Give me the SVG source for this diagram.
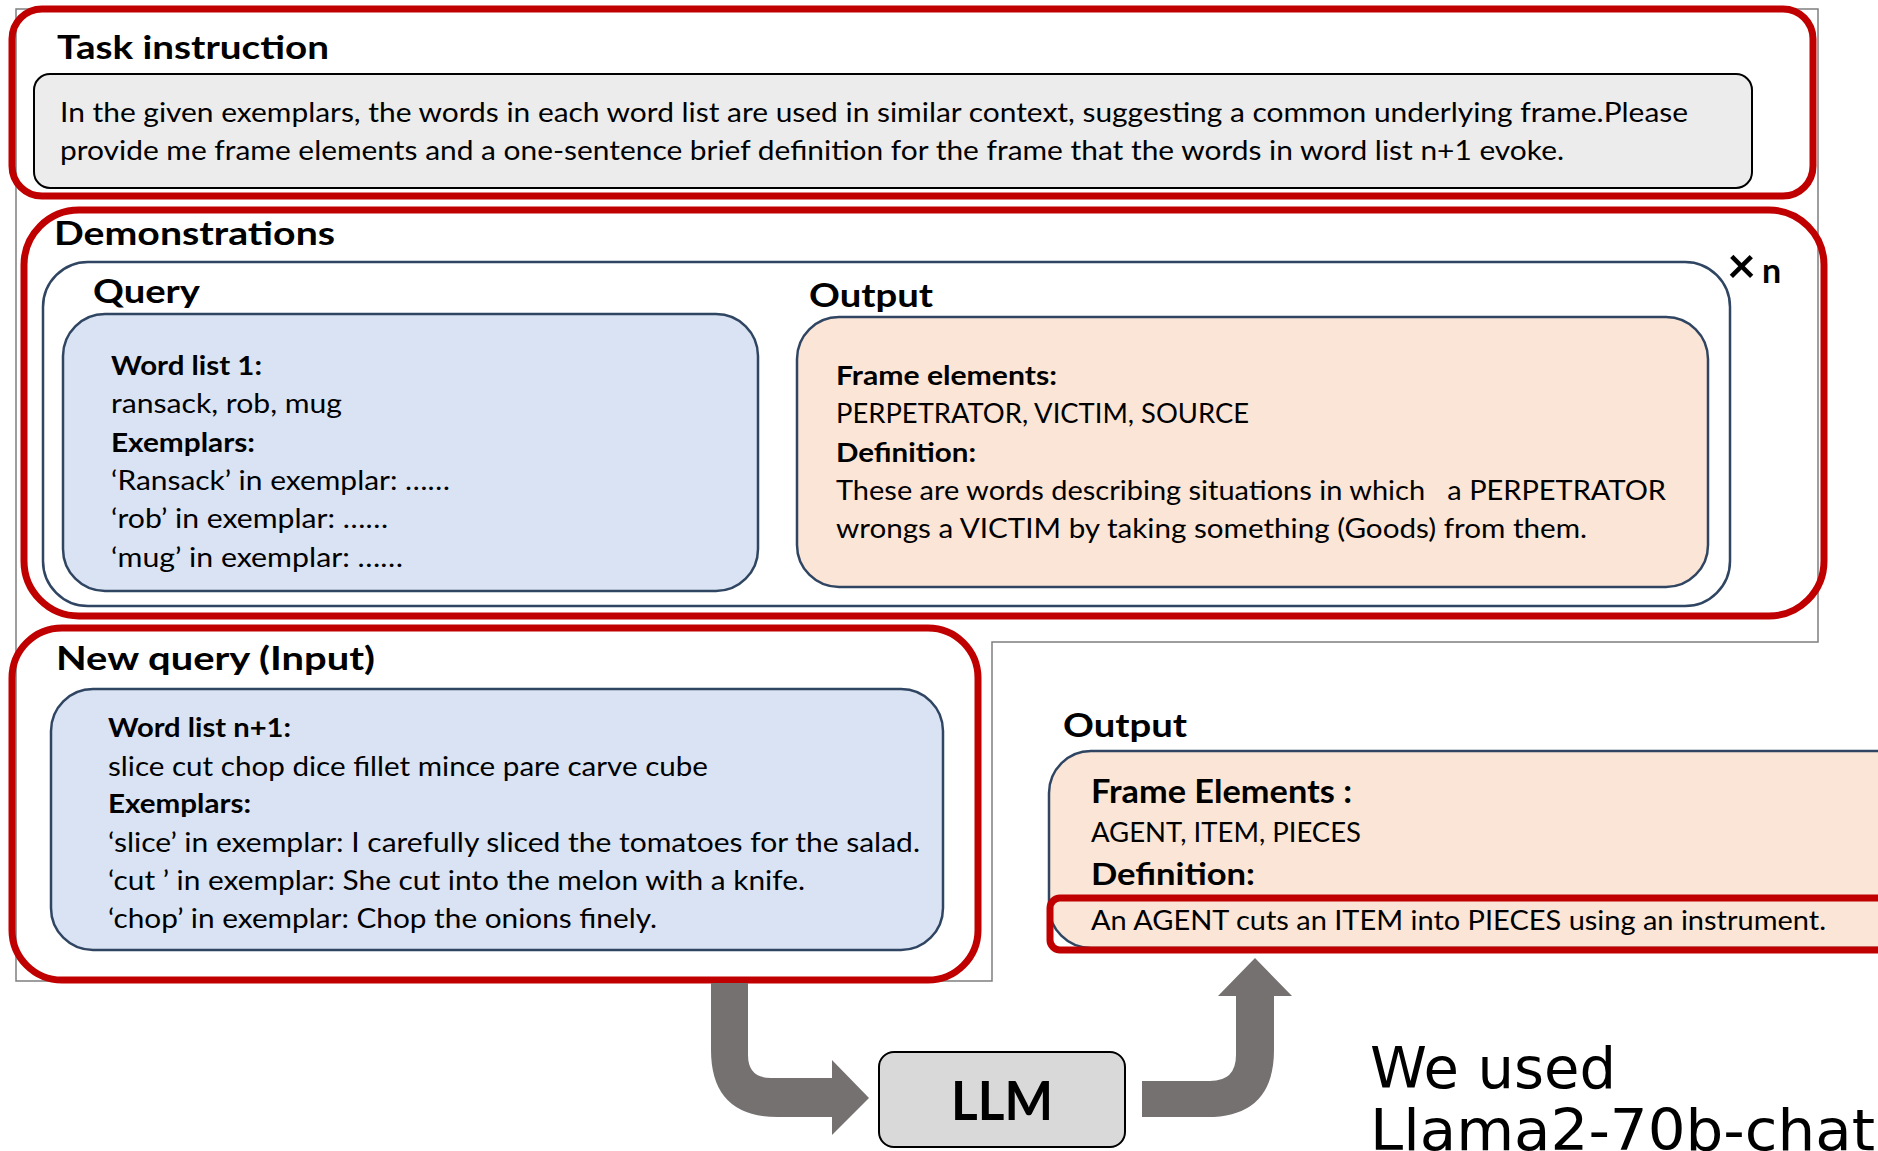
<svg xmlns="http://www.w3.org/2000/svg" width="1878" height="1151" viewBox="0 0 1878 1151">
<defs>
<style>
.t{font-family:Lato,"Open Sans","Liberation Sans",sans-serif;fill:#000}
.h{font-size:32px;font-weight:700}
.b{font-size:26px}
.bb{font-size:26px;font-weight:700}
.red{fill:none;stroke:#c00000;stroke-width:7}
.blue{stroke:#2f4562;stroke-width:2.5}
.arrow{fill:#767171}
.note{font-family:"DejaVu Sans",sans-serif;font-size:57px;fill:#000}
</style>
</defs>
<rect width="1878" height="1151" fill="#fff"/>
<polygon points="16,9 1818,9 1818,642 992,642 992,981 16,981" fill="none" stroke="#7f7f7f" stroke-width="1.5"/>

<g id="task">
<text class="t h" x="57" y="59" textLength="272" lengthAdjust="spacingAndGlyphs">Task instruction</text>
<rect x="34" y="74" width="1718" height="114" rx="16" fill="#ececec" stroke="#000" stroke-width="2"/>
<text class="t b" x="60" y="122" textLength="1628" lengthAdjust="spacingAndGlyphs">In the given exemplars, the words in each word list are used in similar context, suggesting a common underlying frame.Please</text>
<text class="t b" x="60" y="160" textLength="1504" lengthAdjust="spacingAndGlyphs">provide me frame elements and a one-sentence brief definition for the frame that the words in word list n+1 evoke.</text>
<rect class="red" x="12" y="9" width="1801" height="187" rx="30"/>
</g>

<g id="demonstrations">
<text class="t h" x="54" y="245" textLength="281" lengthAdjust="spacingAndGlyphs">Demonstrations</text>
<rect x="43" y="262" width="1687" height="344" rx="45" fill="#fff" class="blue"/>
<text class="t" x="1727" y="283" font-weight="700" font-size="50">×<tspan font-size="34" dx="6">n</tspan></text>
<g id="query">
<text class="t h" x="93" y="303" textLength="107" lengthAdjust="spacingAndGlyphs">Query</text>
<rect x="63" y="314" width="695" height="277" rx="42" fill="#dae3f3" class="blue"/>
<text class="t bb" x="111" y="375" textLength="151" lengthAdjust="spacingAndGlyphs">Word list 1:</text>
<text class="t b" x="111" y="413" textLength="231" lengthAdjust="spacingAndGlyphs">ransack, rob, mug</text>
<text class="t bb" x="111" y="452" textLength="144" lengthAdjust="spacingAndGlyphs">Exemplars:</text>
<text class="t b" x="111" y="490" textLength="339" lengthAdjust="spacingAndGlyphs">‘Ransack’ in exemplar: ……</text>
<text class="t b" x="111" y="528" textLength="277" lengthAdjust="spacingAndGlyphs">‘rob’ in exemplar: ……</text>
<text class="t b" x="111" y="567" textLength="292" lengthAdjust="spacingAndGlyphs">‘mug’ in exemplar: ……</text>
</g>
<g id="demo-output">
<text class="t h" x="809" y="307" textLength="124" lengthAdjust="spacingAndGlyphs">Output</text>
<rect x="797" y="317" width="911" height="270" rx="42" fill="#fbe5d6" class="blue"/>
<text class="t bb" x="836" y="385" textLength="221" lengthAdjust="spacingAndGlyphs">Frame elements:</text>
<text class="t b" x="836" y="423" textLength="413" lengthAdjust="spacingAndGlyphs">PERPETRATOR, VICTIM, SOURCE</text>
<text class="t bb" x="836" y="462" textLength="140" lengthAdjust="spacingAndGlyphs">Definition:</text>
<text class="t b" x="836" y="500" textLength="830" lengthAdjust="spacingAndGlyphs" xml:space="preserve">These are words describing situations in which   a PERPETRATOR</text>
<text class="t b" x="836" y="538" textLength="751" lengthAdjust="spacingAndGlyphs">wrongs a VICTIM by taking something (Goods) from them.</text>
</g>
<rect class="red" x="24" y="210" width="1800" height="406" rx="55"/>
</g>

<g id="new-query">
<text class="t h" x="56" y="670" textLength="319" lengthAdjust="spacingAndGlyphs">New query (Input)</text>
<rect x="51" y="689" width="892" height="261" rx="42" fill="#dae3f3" class="blue"/>
<text class="t bb" x="108" y="737" textLength="183" lengthAdjust="spacingAndGlyphs">Word list n+1:</text>
<text class="t b" x="108" y="776" textLength="600" lengthAdjust="spacingAndGlyphs">slice cut chop dice fillet mince pare carve cube</text>
<text class="t bb" x="108" y="813" textLength="143" lengthAdjust="spacingAndGlyphs">Exemplars:</text>
<text class="t b" x="108" y="852" textLength="812" lengthAdjust="spacingAndGlyphs">‘slice’ in exemplar: I carefully sliced the tomatoes for the salad.</text>
<text class="t b" x="108" y="890" textLength="697" lengthAdjust="spacingAndGlyphs">‘cut ’ in exemplar: She cut into the melon with a knife.</text>
<text class="t b" x="108" y="928" textLength="549" lengthAdjust="spacingAndGlyphs">‘chop’ in exemplar: Chop the onions finely.</text>
<rect class="red" x="12" y="628" width="966" height="352" rx="50"/>
</g>

<g id="final-output">
<text class="t h" x="1063" y="737" textLength="124" lengthAdjust="spacingAndGlyphs">Output</text>
<rect x="1049" y="751" width="900" height="197" rx="42" fill="#fbe5d6" class="blue"/>
<text class="t" x="1091" y="803" font-size="32" font-weight="700" textLength="261" lengthAdjust="spacingAndGlyphs">Frame Elements :</text>
<text class="t b" x="1091" y="842" textLength="270" lengthAdjust="spacingAndGlyphs">AGENT, ITEM, PIECES</text>
<text class="t" x="1091" y="885" font-size="31" font-weight="700" textLength="164" lengthAdjust="spacingAndGlyphs">Definition:</text>
<text class="t b" x="1091" y="930" textLength="735" lengthAdjust="spacingAndGlyphs">An AGENT cuts an ITEM into PIECES using an instrument.</text>
<rect class="red" x="1050" y="898" width="840" height="52" rx="10"/>
</g>

<g id="llm">
<rect x="879" y="1052" width="246" height="95" rx="15" fill="#d9d9d9" stroke="#000" stroke-width="2"/>
<text class="t" x="1002" y="1120" font-size="53" font-weight="700" text-anchor="middle" textLength="102" lengthAdjust="spacingAndGlyphs">LLM</text>
</g>

<g id="note">
<text class="note" x="1370" y="1088" textLength="246" lengthAdjust="spacingAndGlyphs">We used</text>
<text class="note" x="1370" y="1150" textLength="505" lengthAdjust="spacingAndGlyphs">Llama2-70b-chat</text>
</g>

<g id="connectors">
<path class="arrow" d="M711 983 L711 1050 Q711 1117 778 1117 L832 1117 L832 1135 L869 1098 L832 1060 L832 1078 L771 1078 Q748 1078 748 1055 L748 983 Z"/>
<path class="arrow" d="M1142 1081 L1210 1081 Q1236 1081 1236 1055 L1236 996 L1218 996 L1255 958 L1292 996 L1274 996 L1274 1050 Q1274 1117 1207 1117 L1142 1117 Z"/>
</g>
</svg>
